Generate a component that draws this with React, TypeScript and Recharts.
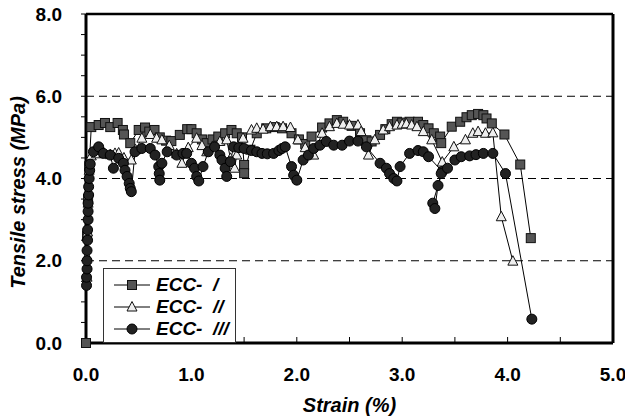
import React from "react";
import {
  LineChart,
  Line,
  XAxis,
  YAxis,
  ReferenceLine,
  Legend,
} from "recharts";

// strain (%) / tensile stress (MPa) pairs
const eccI = [
  [0, 0], [0.01, 2.6], [0.02, 3.5], [0.03, 4.3], [0.05, 5.25], [0.12, 5.3],
  [0.18, 5.35], [0.23, 5.25], [0.3, 5.35], [0.35, 5.18], [0.36, 5.07],
  [0.42, 4.86], [0.5, 5.18], [0.56, 5.24], [0.6, 5.14], [0.65, 5.18],
  [0.7, 5.0], [0.76, 4.92], [0.81, 4.91], [0.89, 5.06], [0.96, 5.2],
  [1.0, 5.2], [1.05, 5.1], [1.1, 4.95], [1.145, 4.86], [1.2, 4.95],
  [1.255, 5.02], [1.32, 5.1], [1.38, 5.18], [1.43, 5.1], [1.48, 5.0],
  [1.5, 4.33], [1.5, 4.13], [1.56, 4.7], [1.62, 5.1], [1.71, 5.22],
  [1.79, 5.25], [1.86, 5.22], [1.95, 5.1], [2.02, 4.95], [2.08, 4.84],
  [2.14, 5.02], [2.24, 5.24], [2.31, 5.34], [2.38, 5.42], [2.44, 5.38],
  [2.52, 5.28], [2.6, 5.1], [2.66, 4.93], [2.71, 4.9], [2.79, 5.06],
  [2.84, 5.2], [2.9, 5.32], [2.95, 5.38], [3.0, 5.36], [3.07, 5.38],
  [3.15, 5.38], [3.2, 5.3], [3.25, 5.22], [3.3, 5.1], [3.36, 5.02],
  [3.37, 4.86], [3.47, 5.26], [3.55, 5.38], [3.61, 5.49], [3.66, 5.54],
  [3.72, 5.57], [3.77, 5.54], [3.8, 5.46], [3.85, 5.34], [3.97, 5.07],
  [4.12, 4.34], [4.22, 2.55],
];

const eccII = [
  [0.01, 1.6], [0.01, 2.1], [0.015, 2.7], [0.02, 3.4], [0.03, 4.2],
  [0.05, 4.55], [0.1, 4.6], [0.17, 4.62], [0.23, 4.58], [0.275, 4.61],
  [0.31, 4.62], [0.36, 4.5], [0.43, 4.45], [0.47, 4.7], [0.53, 4.98],
  [0.61, 5.07], [0.67, 4.98], [0.72, 4.94], [0.79, 4.8], [0.86, 4.6],
  [0.91, 4.37], [0.97, 4.75], [1.05, 4.98], [1.1, 4.8], [1.145, 4.65],
  [1.2, 4.78], [1.27, 4.9], [1.335, 4.94], [1.37, 4.49], [1.41, 4.25],
  [1.43, 4.57], [1.49, 4.98], [1.57, 5.18], [1.62, 5.22], [1.68, 5.2],
  [1.75, 5.26], [1.81, 5.26], [1.87, 5.26], [1.94, 5.24], [2.01, 4.94],
  [2.08, 4.75], [2.16, 4.57], [2.24, 5.1], [2.31, 5.26], [2.38, 5.34],
  [2.44, 5.32], [2.5, 5.3], [2.58, 5.3], [2.61, 5.14], [2.68, 4.57],
  [2.74, 4.94], [2.82, 5.18], [2.88, 5.26], [2.95, 5.3], [3.0, 5.32],
  [3.04, 5.33], [3.09, 5.3], [3.14, 5.26], [3.2, 5.14], [3.28, 4.94],
  [3.38, 4.4], [3.49, 4.77], [3.6, 4.94], [3.67, 5.1], [3.72, 5.14],
  [3.79, 5.1], [3.86, 5.11], [3.94, 3.07], [4.05, 1.99],
];

const eccIII = [
  [0.005, 1.4], [0.005, 1.6], [0.01, 1.8], [0.01, 2.0], [0.01, 2.25],
  [0.015, 2.5], [0.015, 2.75], [0.02, 3.0], [0.02, 3.2], [0.02, 3.4],
  [0.025, 3.6], [0.025, 3.8], [0.03, 4.0], [0.035, 4.2], [0.04, 4.35],
  [0.07, 4.65], [0.12, 4.77], [0.165, 4.61], [0.23, 4.57], [0.26, 4.25],
  [0.31, 4.49], [0.355, 4.37], [0.37, 4.2], [0.39, 4.05], [0.41, 3.88],
  [0.42, 3.76], [0.43, 3.68], [0.465, 4.65], [0.53, 4.73], [0.61, 4.73],
  [0.655, 4.57], [0.69, 4.29], [0.695, 4.12], [0.7, 3.96], [0.72, 4.37],
  [0.77, 4.65], [0.86, 4.57], [0.92, 4.61], [0.955, 4.61], [1.0, 4.37],
  [1.03, 4.25], [1.05, 4.05], [1.07, 3.94], [1.11, 4.29], [1.16, 4.65],
  [1.22, 4.77], [1.27, 4.57], [1.29, 4.45], [1.32, 4.25], [1.335, 4.05],
  [1.37, 4.41], [1.4, 4.77], [1.45, 4.75], [1.5, 4.73], [1.57, 4.68],
  [1.62, 4.65], [1.67, 4.61], [1.72, 4.6], [1.78, 4.61], [1.83, 4.68],
  [1.86, 4.73], [1.89, 4.77], [1.95, 4.29], [1.97, 4.08], [2.0, 3.96],
  [2.06, 4.45], [2.11, 4.57], [2.16, 4.73], [2.22, 4.81], [2.28, 4.9],
  [2.35, 4.81], [2.43, 4.81], [2.5, 4.91], [2.58, 4.91], [2.66, 4.77],
  [2.79, 4.37], [2.85, 4.25], [2.88, 4.12], [2.92, 4.0], [2.95, 3.94],
  [2.98, 4.29], [3.07, 4.61], [3.15, 4.68], [3.2, 4.65], [3.25, 4.53],
  [3.38, 4.17], [3.29, 3.4], [3.31, 3.27], [3.34, 3.83], [3.37, 4.12],
  [3.43, 4.25], [3.5, 4.45], [3.56, 4.53], [3.64, 4.55], [3.7, 4.58],
  [3.77, 4.61], [3.86, 4.61], [3.98, 4.12], [4.23, 0.58],
];

const xTicks = [0, 0.5, 1, 1.5, 2, 2.5, 3, 3.5, 4, 4.5, 5];
const yTicks = [0, 0.5, 1, 1.5, 2, 2.5, 3, 3.5, 4, 4.5, 5, 5.5, 6, 6.5, 7, 7.5, 8];
const gridLines = [2, 4, 6];
const seriesNames = ["ECC-  /", "ECC-  //", "ECC-  ///"];

const FONT = "'Liberation Sans', Arial, sans-serif";

const toPoints = (rows: number[][]) => rows.map(([x, y]) => ({ x, y }));

const Marker = ({ kind, cx, cy }: { kind: string; cx: number; cy: number }) => {
  if (kind === "square")
    return <rect x={cx - 4.5} y={cy - 4.5} width={9} height={9} fill="#555" stroke="#111" strokeWidth={1} />;
  if (kind === "triangle")
    return (
      <polygon
        points={`${cx},${cy - 5.5} ${cx + 5},${cy + 4} ${cx - 5},${cy + 4}`}
        fill="#eee"
        stroke="#111"
        strokeWidth={1}
      />
    );
  return <circle cx={cx} cy={cy} r={5} fill="#222" stroke="#000" strokeWidth={1} />;
};

const makeDot = (kind: string) => (props: any) => {
  if (props.cx == null || props.cy == null) return <g key={props.index} />;
  return (
    <g key={`${kind}-${props.index}`}>
      <Marker kind={kind} cx={props.cx} cy={props.cy} />
    </g>
  );
};

const kinds = ["square", "triangle", "circle"];

const LegendBox = () => (
  <div
    style={{
      width: 133,
      height: 75,
      boxSizing: "border-box",
      border: "1px solid #333",
      background: "#fff",
      paddingTop: 5,
    }}
  >
    {seriesNames.map((name, i) => (
      <div key={name} style={{ display: "flex", alignItems: "center", height: 22 }}>
        <svg width={52} height={14} style={{ marginLeft: 10 }}>
          <line x1={0} y1={7} x2={36} y2={7} stroke="#000" strokeWidth={1} />
          <Marker kind={kinds[i]} cx={18} cy={7} />
        </svg>
        <span
          style={{
            fontFamily: FONT,
            fontWeight: "bold",
            fontStyle: "italic",
            fontSize: 19,
            whiteSpace: "pre",
            marginLeft: -10,
          }}
        >
          {name}
        </span>
      </div>
    ))}
  </div>
);

export default function App() {
  const tickStyle = { fontFamily: FONT, fontWeight: "bold", fontSize: 19, fill: "#000" };
  const labelStyle = { fontFamily: FONT, fontWeight: "bold", fontStyle: "italic", fontSize: 20, fill: "#000" };
  return (
    <div style={{ position: "absolute", left: 0, top: 0, background: "#fff" }}>
      <LineChart width={625} height={418} margin={{ top: 14, right: 12, bottom: 0, left: 0 }}>
        <XAxis
          dataKey="x"
          type="number"
          domain={[0, 5]}
          ticks={xTicks}
          tickFormatter={(v: number) => (v % 1 === 0 ? v.toFixed(1) : "")}
          height={75}
          tickSize={-6}
          tickMargin={31}
          axisLine={{ stroke: "#000", strokeWidth: 3 }}
          tickLine={{ stroke: "#000", strokeWidth: 1 }}
          tick={tickStyle}
          label={{ value: "Strain (%)", position: "center", dy: 24, style: labelStyle }}
        />
        <YAxis
          dataKey="y"
          type="number"
          domain={[0, 8]}
          ticks={yTicks}
          tickFormatter={(v: number) => (v % 2 === 0 ? v.toFixed(1) : "")}
          width={86}
          tickSize={5}
          tickMargin={19}
          axisLine={{ stroke: "#000", strokeWidth: 3 }}
          tickLine={{ stroke: "#000", strokeWidth: 1 }}
          tick={tickStyle}
          label={{
            value: "Tensile stress (MPa)",
            angle: -90,
            position: "center",
            dx: -25,
            dy: 14,
            style: labelStyle,
          }}
        />
        {gridLines.map((g) => (
          <ReferenceLine key={g} y={g} stroke="#000" strokeWidth={1} strokeDasharray="8 5" />
        ))}
        <ReferenceLine y={8} stroke="#000" strokeWidth={2.5} />
        <ReferenceLine x={5} stroke="#000" strokeWidth={3} />
        <Legend
          layout="vertical"
          align="center"
          verticalAlign="middle"
          content={() => <LegendBox />}
          wrapperStyle={{ left: 103, top: 268, width: 133, height: 75 }}
        />
        <Line
          data={toPoints(eccI)}
          dataKey="y"
          name={seriesNames[0]}
          type="linear"
          stroke="#000"
          strokeWidth={1}
          dot={makeDot("square")}
          isAnimationActive={false}
        />
        <Line
          data={toPoints(eccII)}
          dataKey="y"
          name={seriesNames[1]}
          type="linear"
          stroke="#000"
          strokeWidth={1}
          dot={makeDot("triangle")}
          isAnimationActive={false}
        />
        <Line
          data={toPoints(eccIII)}
          dataKey="y"
          name={seriesNames[2]}
          type="linear"
          stroke="#000"
          strokeWidth={1}
          dot={makeDot("circle")}
          isAnimationActive={false}
        />
      </LineChart>
    </div>
  );
}
